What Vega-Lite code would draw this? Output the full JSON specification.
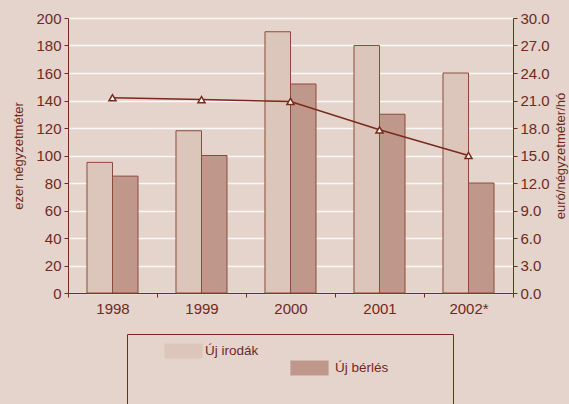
{
  "$schema": "https://vega.github.io/schema/vega-lite/v6.json",
  "width": 445,
  "height": 275,
  "autosize": {"type": "none"},
  "padding": {"left": 68, "top": 18, "right": 56, "bottom": 111},
  "background": "#e5d4cc",
  "config": {
    "view": {"stroke": null},
    "font": "Liberation Sans",
    "axis": {
      "labelFont": "Liberation Sans",
      "titleFont": "Liberation Sans",
      "labelColor": "#6e2a1e",
      "titleColor": "#6e2a1e",
      "domainColor": "#7a2a1a",
      "tickColor": "#7a2a1a",
      "labelFontSize": 15,
      "titleFontSize": 13,
      "titleFontWeight": "normal",
      "tickSize": 4
    },
    "legend": {"labelFont": "Liberation Sans"}
  },
  "data": {
    "values": [
      {"year": "1998", "series": "Új irodák", "value": 95},
      {"year": "1998", "series": "Új bérlés", "value": 85},
      {"year": "1999", "series": "Új irodák", "value": 118},
      {"year": "1999", "series": "Új bérlés", "value": 100},
      {"year": "2000", "series": "Új irodák", "value": 190},
      {"year": "2000", "series": "Új bérlés", "value": 152},
      {"year": "2001", "series": "Új irodák", "value": 180},
      {"year": "2001", "series": "Új bérlés", "value": 130},
      {"year": "2002*", "series": "Új irodák", "value": 160},
      {"year": "2002*", "series": "Új bérlés", "value": 80},
      {"year": "1998", "series": "Első oszályú irodák bérleti díja (jobb o. skála)", "value": 21.3},
      {"year": "1999", "series": "Első oszályú irodák bérleti díja (jobb o. skála)", "value": 21.1},
      {"year": "2000", "series": "Első oszályú irodák bérleti díja (jobb o. skála)", "value": 20.9},
      {"year": "2001", "series": "Első oszályú irodák bérleti díja (jobb o. skála)", "value": 17.8},
      {"year": "2002*", "series": "Első oszályú irodák bérleti díja (jobb o. skála)", "value": 15.0}
    ]
  },
  "encoding": {
    "x": {
      "field": "year",
      "type": "nominal",
      "sort": null,
      "scale": {"paddingInner": 0, "paddingOuter": 0},
      "axis": {
        "title": null,
        "labelAngle": 0,
        "tickBand": "extent",
        "labelPadding": 4,
        "grid": false
      }
    },
    "color": {
      "field": "series",
      "type": "nominal",
      "scale": {
        "domain": ["Új irodák", "Új bérlés", "Első oszályú irodák bérleti díja (jobb o. skála)"],
        "range": ["#dcc6bc", "#bf988b", "#7a2a1a"]
      },
      "legend": {
        "title": null,
        "orient": "none",
        "legendX": 59,
        "legendY": 316,
        "direction": "vertical",
        "columns": 1,
        "rowPadding": -17,
        "padding": 10,
        "strokeColor": "#7a2a1a",
        "labelFontSize": 13.5,
        "labelLimit": 400,
        "labelColor": "#6e2a1e",
        "symbolSize": 196,
        "symbolStrokeColor": "#7a2a1a",
        "symbolStrokeWidth": 1.2,
        "encode": {
          "symbols": {
            "update": {
              "shape": {"signal": "datum.value == 'Első oszályú irodák bérleti díja (jobb o. skála)' ? 'M-1.2,0H-0.45M0.45,0H1.2M-0.45,0.4L0,-0.4L0.45,0.4ZM-0.28,0.28L0.28,0.28L0,-0.2Z' : 'M-2.64,-1H2.64V1H-2.64Z'"},
              "size": {"value": 196},
              "x": {"signal": "datum.value == 'Első oszályú irodák bérleti díja (jobb o. skála)' ? 25.5 : datum.value == 'Új bérlés' ? 172.5 : 46.5"},
              "y": {"signal": "datum.value == 'Első oszályú irodák bérleti díja (jobb o. skála)' ? 45 : 7"},
              "strokeWidth": {"value": 1.2},
              "opacity": {"value": 1}
            }
          },
          "labels": {
            "update": {
              "x": {"signal": "datum.value == 'Első oszályú irodák bérleti díja (jobb o. skála)' ? 35 : datum.value == 'Új bérlés' ? 198 : 68"},
              "y": {"signal": "datum.value == 'Első oszályú irodák bérleti díja (jobb o. skála)' ? 45 : 7"}
            }
          }
        }
      }
    }
  },
  "layer": [
    {
      "transform": [{"filter": "datum.series != 'Első oszályú irodák bérleti díja (jobb o. skála)'"}],
      "mark": {"type": "bar", "stroke": "#8b4a3a", "strokeWidth": 1},
      "encoding": {
        "xOffset": {
          "field": "series",
          "type": "nominal",
          "sort": ["Új irodák", "Új bérlés"],
          "scale": {"paddingInner": 0, "paddingOuter": 0.745}
        },
        "y": {
          "field": "value",
          "type": "quantitative",
          "scale": {"domain": [0, 200], "nice": false},
          "axis": {
            "orient": "left",
            "values": [0, 20, 40, 60, 80, 100, 120, 140, 160, 180, 200],
            "title": "ezer négyzetméter",
            "grid": true,
            "gridColor": "#ffffff",
            "gridWidth": 1.5,
            "gridOpacity": 0.85,
            "labelPadding": 3,
            "titlePadding": 10
          }
        }
      }
    },
    {
      "transform": [{"filter": "datum.series == 'Első oszályú irodák bérleti díja (jobb o. skála)'"}],
      "mark": {
        "type": "line",
        "strokeWidth": 1.5,
        "point": {"shape": "triangle-up", "filled": true, "fill": "#ffffff", "stroke": "#7a2a1a", "strokeWidth": 1.5, "size": 50}
      },
      "encoding": {
        "y": {
          "field": "value",
          "type": "quantitative",
          "scale": {"domain": [0, 30], "nice": false},
          "axis": {
            "orient": "right",
            "values": [0, 3, 6, 9, 12, 15, 18, 21, 24, 27, 30],
            "format": ".1f",
            "title": "euró/négyzetméter/hó",
            "titleAngle": 270,
            "titleBaseline": "top",
            "grid": false,
            "labelPadding": 3,
            "titlePadding": 5
          }
        }
      }
    }
  ],
  "resolve": {"scale": {"y": "independent"}}
}
